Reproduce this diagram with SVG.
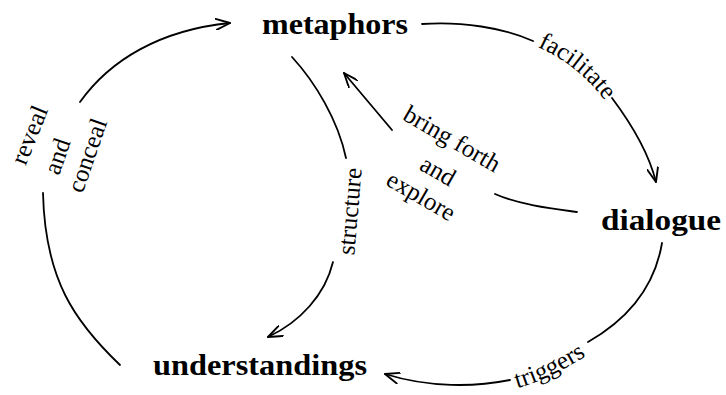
<svg xmlns="http://www.w3.org/2000/svg" width="726" height="395" viewBox="0 0 726 395">
<style>
.node{font-family:"Liberation Serif","Times New Roman",serif;font-weight:bold;font-size:30px;fill:#000}
.lbl{font-family:"Liberation Serif","Times New Roman",serif;font-size:25px;fill:#000}
.c{fill:none;stroke:#000;stroke-width:1.8;stroke-linecap:round}
</style>
<defs>
<marker id="arr" viewBox="0 0 16 12" refX="15" refY="6" markerWidth="16" markerHeight="12" markerUnits="userSpaceOnUse" orient="auto">
<path d="M1,0.5 L15,6 L1,11.5" fill="none" stroke="#000" stroke-width="1.9" stroke-linecap="round" stroke-linejoin="round"/>
</marker>
<path id="pFac" d="M536,46 Q580,66 606,102"/>
<path id="pTrig" d="M511,390 Q550,380 592,352"/>
</defs>
<rect width="726" height="395" fill="#fff"/>
<g id="connectors">
<path class="c" d="M120,365 C75,322 45,280 43,193"/>
<path class="c" d="M80,102 C110,60 160,30 230,23" marker-end="url(#arr)"/>
<path class="c" d="M422,24 C460,21 505,28 533,41"/>
<path class="c" d="M612,98 C630,122 648,150 656,182" marker-end="url(#arr)"/>
<path class="c" d="M292,57 C315,82 338,120 346,158"/>
<path class="c" d="M333,262 C325,295 300,322 268,337" marker-end="url(#arr)"/>
<path class="c" d="M577,212 C555,209 520,205 495,194"/>
<path class="c" d="M392,130 C375,110 360,92 344,73" marker-end="url(#arr)"/>
<path class="c" d="M662,243 C655,285 630,318 588,342"/>
<path class="c" d="M510,380 C475,387 430,388 385,374" marker-end="url(#arr)"/>
</g>
<g id="edge-labels">
<text class="lbl" text-anchor="middle" transform="translate(37,138) rotate(-68)">reveal</text>
<text class="lbl" text-anchor="middle" transform="translate(65,159) rotate(-71)">and</text>
<text class="lbl" text-anchor="middle" transform="translate(95,158) rotate(-71)">conceal</text>
<text class="lbl" text-anchor="middle"><textPath href="#pFac" startOffset="50%">facilitate</textPath></text>
<text class="lbl" text-anchor="middle" transform="translate(358,212) rotate(-85)">structure</text>
<text class="lbl" text-anchor="middle" transform="translate(448,146) rotate(30)">bring forth</text>
<text class="lbl" text-anchor="middle" transform="translate(434,178) rotate(30)">and</text>
<text class="lbl" text-anchor="middle" transform="translate(417,203) rotate(30)">explore</text>
<text class="lbl" text-anchor="middle"><textPath href="#pTrig" startOffset="50%">triggers</textPath></text>
</g>
<g id="metaphors"><text class="node" x="262" y="34" textLength="146" lengthAdjust="spacingAndGlyphs">metaphors</text></g>
<g id="dialogue"><text class="node" x="601" y="230" textLength="120" lengthAdjust="spacingAndGlyphs">dialogue</text></g>
<g id="understandings"><text class="node" x="153" y="375" textLength="214" lengthAdjust="spacingAndGlyphs">understandings</text></g>
</svg>
